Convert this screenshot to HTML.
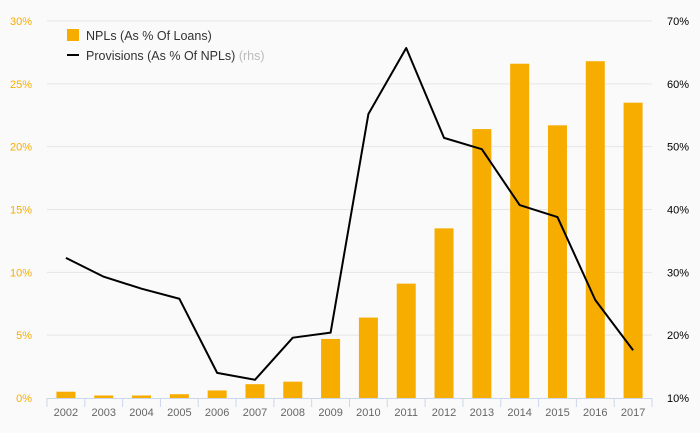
<!DOCTYPE html>
<html><head><meta charset="utf-8"><style>
html,body{margin:0;padding:0;background:#fafafa}
svg{display:block;font-family:"Liberation Sans",sans-serif}
</style></head><body>
<svg id="chart" width="700" height="433">
<rect width="700" height="433" fill="#fafafa"/>
<g id="grid"></g><g id="bars"></g><g id="line"></g><g id="axes"></g>
<g>
<rect x="67" y="29" width="12" height="12" fill="#f7ac00"/>
<text x="86" y="40" font-size="12.5" fill="#333">NPLs (As % Of Loans)</text>
<rect x="67" y="54" width="12" height="2" fill="#000"/>
<text x="86" y="60" font-size="12.5" fill="#333">Provisions (As % Of NPLs) <tspan fill="#bbb">(rhs)</tspan></text>
</g>
</svg>
<script>
const years=["2002","2003","2004","2005","2006","2007","2008","2009","2010","2011","2012","2013","2014","2015","2016","2017"];
const npls=[0.5,0.2,0.2,0.3,0.6,1.1,1.3,4.7,6.4,9.1,13.5,21.4,26.6,21.7,26.8,23.5];
const provisions=[32.3,29.3,27.4,25.8,14.0,12.9,19.6,20.4,55.2,65.7,51.4,49.6,40.7,38.8,25.6,17.6];
const leftTicks=[0,5,10,15,20,25,30];
const rightTicks=[10,20,30,40,50,60,70];
const NS="http://www.w3.org/2000/svg";
const x0=47,x1=652,yTop=21,yBot=398;
const band=(x1-x0)/years.length;
const xc=i=>x0+band*(i+0.5);
const yL=v=>yBot-(v/30)*(yBot-yTop);
const yR=v=>yBot-((v-10)/60)*(yBot-yTop);
function mk(tag,attrs,parent){const e=document.createElementNS(NS,tag);for(const k in attrs)e.setAttribute(k,attrs[k]);document.getElementById(parent).appendChild(e);return e;}
leftTicks.forEach((t,i)=>{
 if(t>0){const g=mk('line',{x1:x0,x2:x1,y1:yL(t),y2:yL(t),stroke:'#e6e6e6'},'grid');
 
 }
 const l=mk('text',{x:32,y:yL(t)+4,'text-anchor':'end','font-size':11,fill:'#f7ac00'},'axes');l.textContent=t+'%';
 
 
});
rightTicks.forEach(t=>{
 const l=mk('text',{x:667,y:yR(t)+4,'font-size':11,fill:'#000'},'axes');l.textContent=t+'%';
 
 
});
const base=mk('line',{x1:x0,x2:x1,y1:yBot+0.5,y2:yBot+0.5,stroke:'#ccd6eb'},'axes');


for(let i=0;i<=years.length;i++){
 const tk=mk('line',{x1:x0+band*i,x2:x0+band*i,y1:yBot,y2:yBot+9,stroke:'#ccd6eb'},'axes');
 
 
}
years.forEach((y,i)=>{
 const l=mk('text',{x:xc(i),y:yBot+18,'text-anchor':'middle','font-size':11,fill:'#666'},'axes');l.textContent=y;
 
 
 const b=mk('rect',{x:xc(i)-9.5,y:yL(npls[i]),width:19,height:yBot-yL(npls[i]),fill:'#f7ac00'},'bars');
 
 
});
const p=mk('path',{d:provisions.map((v,i)=>(i?'L':'M')+xc(i)+','+yR(v)).join(''),fill:'none',stroke:'#000','stroke-width':2,'stroke-linejoin':'round'},'line');


</script>
</body></html>
